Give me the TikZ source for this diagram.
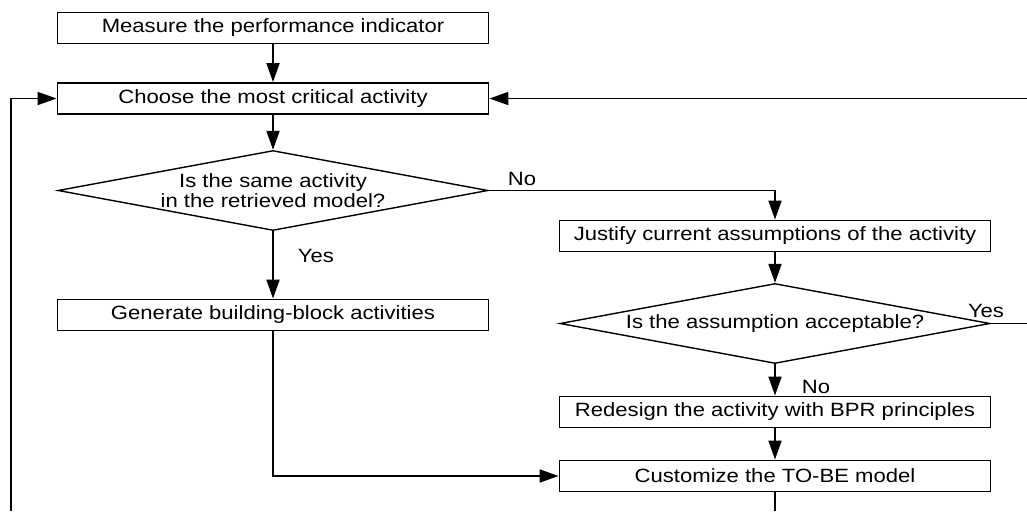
\documentclass[tikz,border=0pt]{standalone}
\usepackage{fontspec}
\setmainfont{Liberation Sans}[FakeStretch=1.15]
\usetikzlibrary{shapes.geometric,arrows.meta}

\tikzset{
  stepbox/.style={draw, line width=1.9pt, inner sep=0pt,
    minimum width=431pt, minimum height=31pt},
  decision/.style={draw, diamond, line width=1.4pt, inner sep=0pt,
    minimum width=430pt, minimum height=80pt},
  flow/.style={line width=1.9pt, -{Triangle[length=19pt,width=13pt]}},
  plain/.style={line width=1.9pt},
  tag/.style={inner sep=0pt, anchor=base},
}

\begin{document}
\begin{tikzpicture}[x=1pt, y=-1pt,
  font=\fontsize{19.2}{20}\selectfont]
  \useasboundingbox (0,0) rectangle (1027,511);

  % left column
  \node[stepbox] (measure) at (273,28) {Measure the performance indicator};
  \node[stepbox] (choose) at (273,98.5) {Choose the most critical activity};
  \node[decision, label={[align=center, inner sep=0pt]center:Is the same activity\\in the retrieved model?}]
    (same) at (273,190.5) {};
  \node[stepbox] (generate) at (273,315) {Generate building-block activities};

  % right column
  \node[stepbox] (justify) at (775,236) {Justify current assumptions of the activity};
  \node[decision] (accept) at (775,323.5) {};
  \node at (accept.center) {Is the assumption acceptable?};
  \node[stepbox] (redesign) at (775,412) {Redesign the activity with BPR principles};
  \node[stepbox] (customize) at (775,476) {Customize the TO-BE model};

  % free ends at the border
  \coordinate (loopin) at (11,511);
  \coordinate (backin) at (1027,98.5);
  \coordinate (yesout) at (1027,323.5);
  \coordinate (tobeout) at (775,511);

  % connectors
  \draw[flow] (measure) -- (choose);
  \draw[flow] (choose) -- (same);
  \draw[flow] (loopin) |- (choose.west);
  \draw[flow] (backin) -- (choose.east);
  \draw[flow] (same.east) -| (justify.north);
  \draw[flow] (same.south) -- (generate.north);
  \draw[flow] (generate.south) |- (customize.west);
  \draw[flow] (justify) -- (accept);
  \draw[plain] (accept.east) -- (yesout);
  \draw[flow] (accept.south) -- (redesign.north);
  \draw[flow] (redesign) -- (customize);
  \draw[plain] (customize.south) -- (tobeout);

  % branch labels
  \node[tag] at (522,185) {No};
  \node[tag] at (316,262) {Yes};
  \node[tag] at (986,317) {Yes};
  \node[tag] at (816,393) {No};
\end{tikzpicture}
\end{document}
